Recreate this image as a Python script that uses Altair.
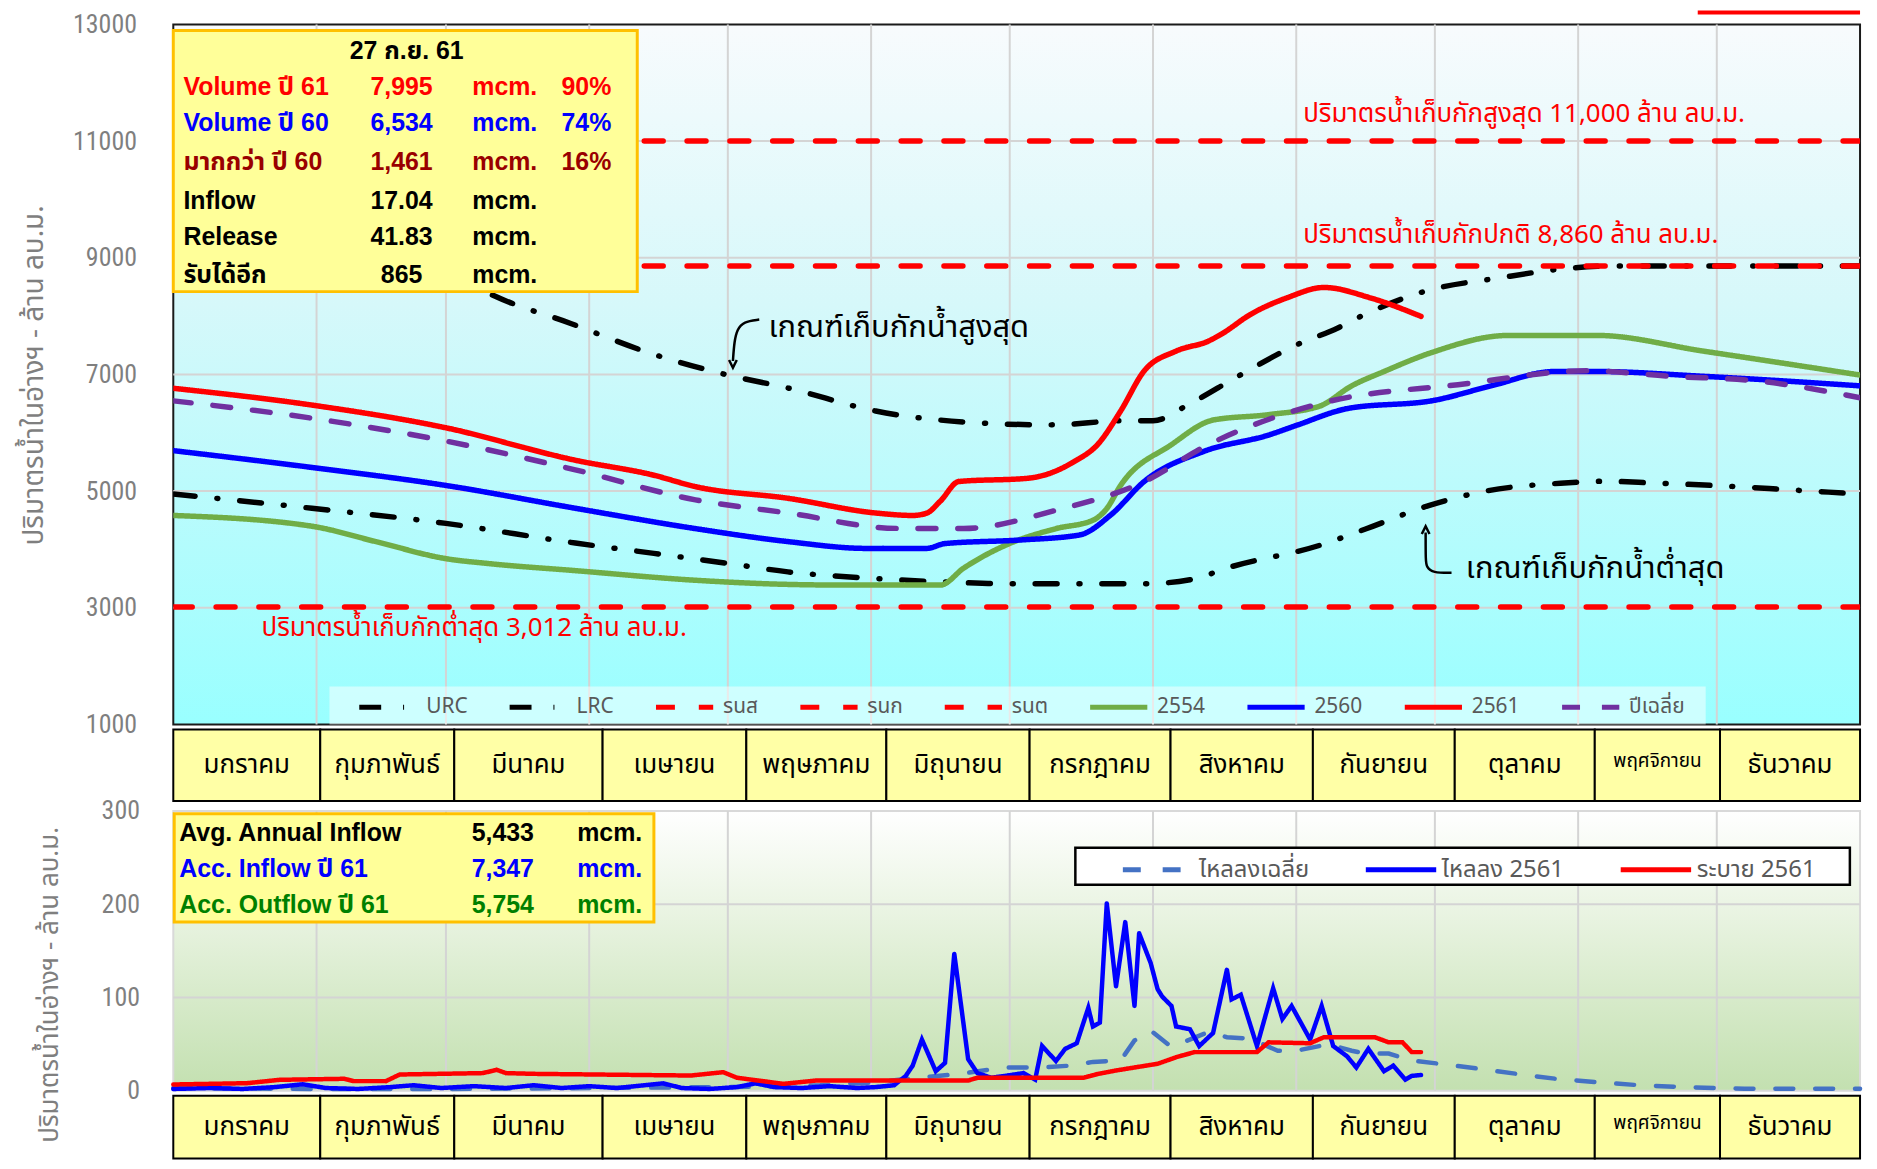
import altair as alt
import pandas as pd

# ---------------- top panel: reservoir volume (million m3) by day of year ----------------
urc_day = [0, 31, 59, 68, 86, 104, 120, 133, 152, 175, 190, 206, 212, 220, 230, 243, 252, 257, 271, 287, 302, 312, 365]
urc_val = [9900, 9350, 8800, 8400, 7873, 7343, 6989, 6767, 6372, 6166, 6135, 6207, 6207, 6500, 6950, 7503, 7797, 7996, 8429, 8655, 8820, 8860, 8860]

lrc_day = [0, 30, 59, 87, 104, 120, 133, 152, 175, 181, 210, 220, 229, 248, 258, 272, 284, 301, 310, 320, 335, 350, 365]
lrc_val = [4950, 4705, 4446, 4109, 3932, 3760, 3615, 3500, 3420, 3410, 3410, 3480, 3704, 4068, 4350, 4760, 5000, 5138, 5168, 5140, 5090, 5020, 4950]

y2554_day = [0, 30, 44, 59, 68, 87, 113, 133, 145, 166, 171, 180, 191, 199, 202, 205, 216, 225, 237, 248, 255, 262, 272, 289, 308, 331, 365]
y2554_val = [4582, 4397, 4130, 3841, 3759, 3636, 3471, 3400, 3389, 3389, 3677, 4068, 4356, 4500, 4700, 5097, 5796, 6217, 6310, 6454, 6804, 7050, 7367, 7668, 7668, 7400, 6989]

y2560_day = [0, 30, 59, 87, 113, 133, 150, 163, 167, 183, 196, 203, 210, 223, 237, 243, 254, 273, 285, 299, 308, 331, 365]
y2560_val = [5693, 5405, 5096, 4705, 4356, 4134, 4017, 4017, 4100, 4160, 4245, 4600, 5158, 5680, 5960, 6125, 6413, 6557, 6800, 7050, 7050, 6968, 6804]

y2561_day = [0, 30, 59, 87, 104, 113, 133, 152, 160, 163, 166, 170, 185, 195, 200, 205, 210, 217, 224, 227, 233, 241, 249, 259, 270]
y2561_val = [6762, 6474, 6084, 5528, 5271, 5076, 4876, 4624, 4582, 4620, 4829, 5164, 5220, 5508, 5796, 6372, 7050, 7400, 7571, 7700, 8024, 8313, 8490, 8313, 7995]

avg_day = [0, 30, 59, 87, 113, 133, 157, 171, 191, 210, 224, 240, 250, 278, 306, 324, 343, 365]
avg_val = [6547, 6249, 5857, 5364, 4849, 4624, 4360, 4360, 4670, 5158, 5796, 6310, 6536, 6824, 7063, 6968, 6886, 6600]

max_storage = 11000
normal_storage = 8860
min_storage = 3012

series_names = ["URC", "LRC", "รนส", "รนก", "รนต", "2554", "2560", "2561", "ปีเฉลี่ย"]
series_colors = ["#000000", "#000000", "#FF0000", "#FF0000", "#FF0000", "#70AD47", "#0000FF", "#FF0000", "#7030A0"]
series_dashes = [[22, 22, 1, 22], [22, 22, 1, 22], [19, 24], [19, 24], [19, 24], [1, 0], [1, 0], [1, 0], [18, 22]]

# ---------------- bottom panel: daily inflow / release (million m3) ----------------
inflow_day = [0, 8, 15, 22, 28, 33, 40, 47, 52, 58, 65, 72, 78, 84, 90, 96, 102, 106, 110, 116, 122, 126, 130, 136,
              142, 148, 152, 156, 158.5, 160, 162, 165, 167, 169, 172, 174, 177, 180, 184, 186.5, 188, 191, 193,
              195.5, 198, 199, 200.5, 202, 204, 206, 208, 209, 211.5, 213, 214, 216, 217, 220, 222, 225, 228, 229,
              231, 234.5, 238, 240, 242, 246, 248.5, 251, 254, 256, 258.6, 262, 264, 266.6, 268, 270]
inflow_val = [2, 3, 2, 4, 7, 3, 2, 4, 6, 3, 5, 3, 6, 3, 5, 3, 6, 8, 3, 2, 4, 8, 4, 3,
              5, 3, 4, 6, 16, 27, 55, 21, 30, 147, 34, 19, 14, 16, 19, 12, 48, 32, 45,
              51, 89, 69, 73, 201, 112, 181, 91, 169, 137, 109, 101, 91, 69, 66, 48, 62, 130, 98,
              103, 48, 110, 77, 91, 55, 91, 48, 37, 25, 45, 21, 27, 12, 16, 17]

avg_in_day = [0, 30, 60, 90, 120, 140, 152, 159, 170, 180, 188, 194, 199, 205, 208, 211.5, 216, 224, 228, 233, 239,
              243, 250, 255, 258, 263, 268, 274, 280.5, 291, 299, 308, 318, 327, 340, 365]
avg_in_val = [3, 2, 2, 3, 4, 6, 9, 13, 18, 25, 25, 27, 31, 32.5, 54, 64.6, 47, 63, 57.5, 56, 43,
              43, 50, 43, 40, 40, 32.5, 29, 25, 18, 13, 9.3, 5.7, 4, 2.2, 2.2]

release_day = [0, 16, 23, 37, 39, 46, 49, 67, 70, 72, 78, 112, 119, 122, 132, 139, 172, 174, 197, 200, 204, 208,
               213, 217, 221, 234.5, 237, 246, 249, 260, 263, 266, 268, 270]
release_val = [6.8, 8.2, 11.8, 12.9, 10.4, 10.4, 17.5, 19, 22.5, 19, 18.2, 16.4, 20, 14, 7.5, 11, 11, 14, 14, 18, 21.8, 25,
               29, 36, 41.5, 41.5, 52, 51, 57.5, 57.5, 52, 52, 41.5, 41.5]

flow_names = ["ไหลลงเฉลี่ย", "ไหลลง 2561", "ระบาย 2561"]
flow_colors = ["#4472C4", "#0000FF", "#FF0000"]
flow_dashes = [[18, 22], [1, 0], [1, 0]]

# ---------------- text blocks ----------------
box_date = "27 ก.ย. 61"
box_labels = ["Volume ปี 61", "Volume ปี 60", "มากกว่า ปี 60", "Inflow", "Release", "รับได้อีก"]
box_numbers = ["7,995", "6,534", "1,461", "17.04", "41.83", "865"]
box_units = ["mcm.", "mcm.", "mcm.", "mcm.", "mcm.", "mcm."]
box_pcts = ["90%", "74%", "16%", "", "", ""]
box_colors = ["#FF0000", "#0000FF", "#990000", "#000000", "#000000", "#000000"]

info_labels = ["Avg. Annual Inflow", "Acc. Inflow  ปี 61", "Acc. Outflow  ปี 61"]
info_numbers = ["5,433", "7,347", "5,754"]
info_units = ["mcm.", "mcm.", "mcm."]
info_colors = ["#000000", "#0000FF", "#008000"]

months = ["มกราคม", "กุมภาพันธ์", "มีนาคม", "เมษายน", "พฤษภาคม", "มิถุนายน",
          "กรกฎาคม", "สิงหาคม", "กันยายน", "ตุลาคม", "พฤศจิกายน", "ธันวาคม"]
month_days = [31, 28, 31, 30, 31, 30, 31, 31, 30, 31, 30, 31]

y_title = "ปริมาตรน้ำในอ่างฯ - ล้าน ลบ.ม."
txt_max = "ปริมาตรน้ำเก็บกักสูงสุด 11,000 ล้าน ลบ.ม."
txt_normal = "ปริมาตรน้ำเก็บกักปกติ 8,860 ล้าน ลบ.ม."
txt_min = "ปริมาตรน้ำเก็บกักต่ำสุด 3,012 ล้าน ลบ.ม."
txt_urc = "เกณฑ์เก็บกักน้ำสูงสุด"
txt_lrc = "เกณฑ์เก็บกักน้ำต่ำสุด"

# ---------------- layout constants ----------------
W = 1694
H_TOP = 703
H_ROW1 = 77
ROW_H = 72
H_BOT = 281
H_ROW2 = 63
# column edges of the month table under each panel (day-of-year units, as drawn in the source table)
cell_edges = [0, 31.8, 60.8, 92.9, 124.0, 154.3, 185.3, 215.8, 246.6, 277.3, 307.6, 334.7, 365]

THAI = "'Noto Sans Thai', 'Noto Sans Thai UI', 'Tlwg Typo', 'Loma', 'Garuda', 'Noto Sans', 'DejaVu Sans', sans-serif"
BOLD = "'Liberation Sans', 'Noto Sans Thai', Arial, sans-serif"
NARROW = "'Liberation Sans Narrow', 'Roboto Condensed', 'Liberation Sans', sans-serif"


def xsc():
    return alt.Scale(domain=[0, 365], nice=False, zero=False)


def ysc():
    return alt.Scale(domain=[1000, 13000], nice=False, zero=False)


def ybsc():
    return alt.Scale(domain=[0, 300], nice=False, zero=False)


def top_axis():
    return alt.Axis(values=[1000, 3000, 5000, 7000, 9000, 11000, 13000], format="d", grid=False, domain=False,
                    ticks=False, labelFontSize=26, labelColor="#7F7F7F", labelFont=NARROW,
                    labelPadding=37, labelFlush=False, title=y_title, titleFont=THAI, titleFontSize=28,
                    titleFontWeight="normal", titleColor="#7F7F7F", titleX=-139, titleY=352,
                    titleAngle=270, titleAlign="center", titleBaseline="middle")


def bot_axis():
    return alt.Axis(values=[0, 100, 200, 300], format="d", grid=False, domain=False, ticks=False,
                    labelFontSize=26, labelColor="#7F7F7F", labelFont=NARROW, labelPadding=34,
                    labelFlush=False, title=y_title, titleFont=THAI, titleFontSize=26,
                    titleFontWeight="normal", titleColor="#7F7F7F", titleX=-124, titleY=174,
                    titleAngle=270, titleAlign="center", titleBaseline="middle")


def TX(f):
    return alt.X(f, scale=xsc(), axis=None)


def TY(f):
    return alt.Y(f, scale=ysc(), axis=top_axis())


def BY(f):
    return alt.Y(f, scale=ybsc(), axis=bot_axis())


# month boundaries (day of year)
starts, ends = [], []
acc = 0
for n in month_days:
    starts.append(acc)
    acc += n
    ends.append(acc)

# ================= TOP PANEL =================
rows = []
for name, d, v in [("URC", urc_day, urc_val), ("LRC", lrc_day, lrc_val),
                   ("รนส", [0, 365], [max_storage] * 2), ("รนก", [0, 365], [normal_storage] * 2),
                   ("รนต", [0, 365], [min_storage] * 2), ("2554", y2554_day, y2554_val),
                   ("2560", y2560_day, y2560_val), ("2561", y2561_day, y2561_val),
                   ("ปีเฉลี่ย", avg_day, avg_val)]:
    for dd, vv in zip(d, v):
        rows.append({"day": dd, "value": vv, "series": name})
top_df = pd.DataFrame(rows)


def top_legend():
    return alt.Legend(title=None, orient="none", legendX=184, legendY=654, direction="horizontal",
                      columns=9, symbolType="stroke", symbolSize=3300, symbolStrokeWidth=5,
                      labelFontSize=21, labelColor="#595959", labelFont=THAI,
                      columnPadding=31, labelOffset=7, padding=0)


top_bg = alt.Chart(pd.DataFrame({"a": [0]})).mark_rect(
    fill=alt.Gradient(gradient="linear", x1=0, x2=0, y1=0, y2=1,
                      stops=[alt.GradientStop(color="#F8FBFD", offset=0),
                             alt.GradientStop(color="#D6F8FA", offset=0.4),
                             alt.GradientStop(color="#99FFFF", offset=1)]),
    stroke="#1A1A1A", strokeWidth=2
).encode(x=alt.value(0), x2=alt.value(W), y=alt.value(0), y2=alt.value(H_TOP))

top_ygrid = alt.Chart(pd.DataFrame({"v": [3000, 5000, 7000, 9000, 11000]})).mark_rule(
    color="#D4D4D4", strokeWidth=2).encode(y=TY("v:Q"))
top_xgrid = alt.Chart(pd.DataFrame({"d": starts[1:]})).mark_rule(
    color="#D4D4D4", strokeWidth=2).encode(x=TX("d:Q"))

legend_strip = alt.Chart(pd.DataFrame({"x0": [33.8], "x1": [331.6], "y0": [1000], "y1": [1650]})).mark_rect(
    fill="#FFFFFF", opacity=0.5).encode(x=TX("x0:Q"), x2="x1:Q", y=TY("y0:Q"), y2="y1:Q")

top_lines = alt.Chart(top_df).mark_line(strokeWidth=5.5, strokeCap="round", interpolate="monotone",
                                        clip=True).encode(
    x=TX("day:Q"),
    y=TY("value:Q"),
    color=alt.Color("series:N", scale=alt.Scale(domain=series_names, range=series_colors), legend=top_legend()),
    strokeDash=alt.StrokeDash("series:N", scale=alt.Scale(domain=series_names, range=series_dashes),
                              legend=top_legend()),
)

# info box (top-left)
box_rect = alt.Chart(pd.DataFrame({"x0": [0.0], "x1": [100.4], "y0": [8419], "y1": [12897]})).mark_rect(
    fill="#FFFF99", stroke="#FFC000", strokeWidth=3).encode(x=TX("x0:Q"), x2="x1:Q", y=TY("y0:Q"), y2="y1:Q")

row_vals = [11923, 11308, 10641, 9974, 9359, 8709]
box_rows = []
for lab, num, unit, pct, c, yv in zip(box_labels, box_numbers, box_units, box_pcts, box_colors, row_vals):
    box_rows.append({"t": lab, "x": 2.2, "y": yv, "c": c, "al": "l"})
    box_rows.append({"t": num, "x": 49.4, "y": yv, "c": c, "al": "c"})
    box_rows.append({"t": unit, "x": 64.7, "y": yv, "c": c, "al": "l"})
    if pct:
        box_rows.append({"t": pct, "x": 84.0, "y": yv, "c": c, "al": "l"})
box_rows.append({"t": box_date, "x": 50.5, "y": 12538, "c": "#000000", "al": "c"})
box_df = pd.DataFrame(box_rows)

box_left = alt.Chart(box_df).transform_filter(alt.datum.al == "l").mark_text(
    align="left", baseline="middle", font=BOLD, fontSize=25, fontWeight="bold").encode(
    x=TX("x:Q"), y=TY("y:Q"), text="t:N", color=alt.Color("c:N", scale=None))
box_center = alt.Chart(box_df).transform_filter(alt.datum.al == "c").mark_text(
    align="center", baseline="middle", font=BOLD, fontSize=25, fontWeight="bold").encode(
    x=TX("x:Q"), y=TY("y:Q"), text="t:N", color=alt.Color("c:N", scale=None))

# red capacity labels
cap_df = pd.DataFrame({"t": [txt_max, txt_normal, txt_min], "d": [244.5, 244.5, 19.1],
                       "v": [11461, 9393, 2658]})
cap_text = alt.Chart(cap_df).mark_text(align="left", baseline="middle", font=THAI, fontSize=26,
                                       color="#FF0000").encode(x=TX("d:Q"), y=TY("v:Q"), text="t:N")

rc_df = pd.DataFrame({"t": [txt_urc, txt_lrc], "d": [128.8, 279.7], "v": [7803, 3667]})
rc_text = alt.Chart(rc_df).mark_text(align="left", baseline="middle", font=THAI, fontSize=31,
                                     color="#000000").encode(x=TX("d:Q"), y=TY("v:Q"), text="t:N")

arrow_df = pd.DataFrame({
    "a": ["u"] * 5 + ["l"] * 5,
    "i": list(range(5)) * 2,
    "d": [126.8, 123.4, 122.0, 121.4, 121.1, 276.6, 272.5, 271.2, 271.0, 271.0],
    "v": [7940, 7906, 7769, 7564, 7230, 3598, 3598, 3700, 3803, 4290],
})
arrows = alt.Chart(arrow_df).mark_line(color="#000000", strokeWidth=2.5, interpolate="basis").encode(
    x=TX("d:Q"), y=TY("v:Q"), detail="a:N", order=alt.Order("i:Q"))
head_dn = alt.Chart(pd.DataFrame({"d": [121.1], "v": [7180]})).mark_point(
    shape="M -1 -1 L 0 1 L 1 -1", size=60, filled=False, color="#000000", strokeWidth=2.5, opacity=1).encode(
    x=TX("d:Q"), y=TY("v:Q"))
head_up = alt.Chart(pd.DataFrame({"d": [271.0], "v": [4330]})).mark_point(
    shape="M -1 1 L 0 -1 L 1 1", size=60, filled=False, color="#000000", strokeWidth=2.5, opacity=1).encode(
    x=TX("d:Q"), y=TY("v:Q"))

corner_bar = alt.Chart(pd.DataFrame({"a": [0]})).mark_rect(color="#FF0000").encode(
    x=alt.value(1531), x2=alt.value(W), y=alt.value(-14), y2=alt.value(-10))

top = alt.layer(top_bg, top_ygrid, top_xgrid, legend_strip, top_lines, box_rect,
                box_left, box_center, cap_text, rc_text, arrows, head_dn, head_up,
                corner_bar).properties(width=W, height=H_TOP)

# ================= MONTH ROWS =================
mdf = pd.DataFrame({"month": months, "start": cell_edges[:-1], "end": cell_edges[1:],
                    "mid": [(s + e) / 2 for s, e in zip(cell_edges[:-1], cell_edges[1:])]})


def month_row(h, rh):
    rect = alt.Chart(mdf).mark_rect(fill="#FFFFA6", stroke="#000000", strokeWidth=2).encode(
        x=TX("start:Q"), x2="end:Q", y=alt.value(0), y2=alt.value(rh))
    big = alt.Chart(mdf).transform_filter(alt.datum.month != "พฤศจิกายน").mark_text(
        font=THAI, fontSize=26, color="#000000", baseline="middle", align="center").encode(
        x=TX("mid:Q"), y=alt.value(rh / 2), text="month:N")
    small = alt.Chart(mdf).transform_filter(alt.datum.month == "พฤศจิกายน").mark_text(
        font=THAI, fontSize=19, color="#000000", baseline="middle", align="center").encode(
        x=TX("mid:Q"), y=alt.value(rh / 2 - 4), text="month:N")
    return alt.layer(rect, big, small).properties(width=W, height=h)


row1 = month_row(H_ROW1, ROW_H)
row2 = month_row(H_ROW2, H_ROW2)

# ================= BOTTOM PANEL =================
brows = []
for name, d, v in [("ไหลลงเฉลี่ย", avg_in_day, avg_in_val), ("ไหลลง 2561", inflow_day, inflow_val),
                   ("ระบาย 2561", release_day, release_val)]:
    for dd, vv in zip(d, v):
        brows.append({"day": dd, "value": vv, "series": name})
bot_df = pd.DataFrame(brows)


def bot_legend():
    return alt.Legend(title=None, orient="none", legendX=951, legendY=21, direction="horizontal",
                      columns=3, symbolType="stroke", symbolSize=5000, symbolStrokeWidth=5,
                      labelFontSize=24, labelColor="#595959", labelFont=THAI,
                      columnPadding=46, labelOffset=3, padding=0)


bot_bg = alt.Chart(pd.DataFrame({"a": [0]})).mark_rect(
    fill=alt.Gradient(gradient="linear", x1=0, x2=0, y1=0, y2=1,
                      stops=[alt.GradientStop(color="#FFFFFF", offset=0),
                             alt.GradientStop(color="#E4F1DB", offset=0.45),
                             alt.GradientStop(color="#C3E0B0", offset=1)]),
    stroke="#D9D9D9", strokeWidth=2
).encode(x=alt.value(0), x2=alt.value(W), y=alt.value(0), y2=alt.value(H_BOT))

bot_ygrid = alt.Chart(pd.DataFrame({"v": [100, 200]})).mark_rule(color="#D4D4D4", strokeWidth=2).encode(
    y=BY("v:Q"))
bot_xgrid = alt.Chart(pd.DataFrame({"d": starts[1:]})).mark_rule(color="#D4D4D4", strokeWidth=2).encode(
    x=TX("d:Q"))

bot_leg_box = alt.Chart(pd.DataFrame({"x0": [195.2], "x1": [362.8], "y0": [221], "y1": [260.5]})).mark_rect(
    fill="#FFFFFF", stroke="#000000", strokeWidth=2.5).encode(x=TX("x0:Q"), x2="x1:Q", y=BY("y0:Q"), y2="y1:Q")

bot_lines = alt.Chart(bot_df).mark_line(strokeWidth=4.5, strokeCap="round").encode(
    x=TX("day:Q"),
    y=BY("value:Q"),
    color=alt.Color("series:N", scale=alt.Scale(domain=flow_names, range=flow_colors), legend=bot_legend()),
    strokeDash=alt.StrokeDash("series:N", scale=alt.Scale(domain=flow_names, range=flow_dashes),
                              legend=bot_legend()),
)

info_rect = alt.Chart(pd.DataFrame({"x0": [0.2], "x1": [104], "y0": [181], "y1": [297]})).mark_rect(
    fill="#FFFF99", stroke="#FFC000", strokeWidth=3).encode(x=TX("x0:Q"), x2="x1:Q", y=BY("y0:Q"), y2="y1:Q")
info_rows = []
for lab, num, unit, c, yv in zip(info_labels, info_numbers, info_units, info_colors, [276.5, 238, 199.4]):
    info_rows.append({"t": lab, "x": 1.3, "y": yv, "c": c, "al": "l"})
    info_rows.append({"t": num, "x": 71.3, "y": yv, "c": c, "al": "c"})
    info_rows.append({"t": unit, "x": 87.4, "y": yv, "c": c, "al": "l"})
info_df = pd.DataFrame(info_rows)
info_left = alt.Chart(info_df).transform_filter(alt.datum.al == "l").mark_text(
    align="left", baseline="middle", font=BOLD, fontSize=25, fontWeight="bold").encode(
    x=TX("x:Q"), y=BY("y:Q"), text="t:N", color=alt.Color("c:N", scale=None))
info_center = alt.Chart(info_df).transform_filter(alt.datum.al == "c").mark_text(
    align="center", baseline="middle", font=BOLD, fontSize=25, fontWeight="bold").encode(
    x=TX("x:Q"), y=BY("y:Q"), text="t:N", color=alt.Color("c:N", scale=None))

bottom = alt.layer(bot_bg, bot_ygrid, bot_xgrid, bot_leg_box, bot_lines, info_rect, info_left,
                   info_center).properties(width=W, height=H_BOT)

chart = alt.VConcatChart(
    vconcat=[top, row1, bottom, row2], spacing=5, bounds="flush"
).resolve_scale(
    color="independent", strokeDash="independent"
).properties(
    padding={"left": 13, "top": 0, "right": 0, "bottom": 0}
).configure_view(stroke=None)

chart.save("out.html", embed_options={"renderer": "svg", "actions": False})
